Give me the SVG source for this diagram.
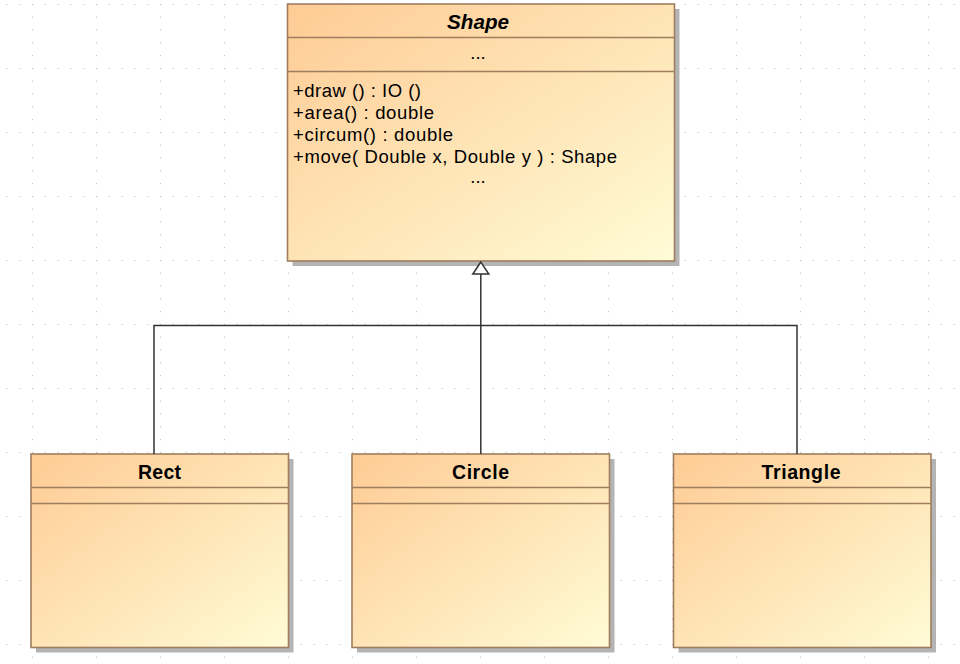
<svg xmlns="http://www.w3.org/2000/svg" width="960" height="664" viewBox="0 0 960 664">
  <defs>
    <linearGradient id="fill" x1="0" y1="0" x2="1" y2="1">
      <stop offset="0" stop-color="#FECB94"/>
      <stop offset="1" stop-color="#FFFCD6"/>
    </linearGradient>
    <pattern id="grid" patternUnits="userSpaceOnUse" x="32" y="4" width="64" height="64">
      <g fill="#b8b8b8">
        <rect x="0" y="0" width="1" height="1"/>
        <rect x="12.8" y="0" width="1" height="1"/>
        <rect x="25.6" y="0" width="1" height="1"/>
        <rect x="38.4" y="0" width="1" height="1"/>
        <rect x="51.2" y="0" width="1" height="1"/>
        <rect x="0" y="12.8" width="1" height="1"/>
        <rect x="0" y="25.6" width="1" height="1"/>
        <rect x="0" y="38.4" width="1" height="1"/>
        <rect x="0" y="51.2" width="1" height="1"/>
      </g>
    </pattern>
  </defs>
  <style>
    .box { fill: url(#fill); stroke: #9E7E5E; stroke-width: 1.6; }
    .shadow { fill: #b4b4b4; }
    .div { stroke: #9E7E5E; stroke-width: 1.6; fill: none; }
    .title { font-family: "Liberation Sans", Arial, sans-serif; font-weight: bold; font-size: 19.5px; fill: #000; text-anchor: middle; }
    .ital { font-style: italic; }
    .txt { font-family: "Liberation Sans", Arial, sans-serif; font-size: 18.5px; fill: #000; }
    .mid { text-anchor: middle; }
    .conn { stroke: #333; stroke-width: 1.5; fill: none; }
  </style>
  <rect width="960" height="664" fill="#fff"/>
  <rect width="960" height="664" fill="url(#grid)"/>

  <g id="Shape">
    <rect class="shadow" x="292.5" y="9" width="387" height="257"/>
    <rect class="box" x="287.5" y="4" width="387" height="257"/>
    <line class="div" x1="287.5" y1="37.5" x2="674.5" y2="37.5"/>
    <line class="div" x1="287.5" y1="71.5" x2="674.5" y2="71.5"/>
    <text class="title ital" x="478" y="29" textLength="62" lengthAdjust="spacingAndGlyphs">Shape</text>
    <text class="txt mid" x="478" y="59">...</text>
    <text class="txt" x="293" y="97" textLength="128" lengthAdjust="spacing">+draw () : IO ()</text>
    <text class="txt" x="293" y="119" textLength="141" lengthAdjust="spacing">+area() : double</text>
    <text class="txt" x="293" y="141" textLength="160" lengthAdjust="spacing">+circum() : double</text>
    <text class="txt" x="293" y="163" textLength="324" lengthAdjust="spacing">+move( Double x, Double y ) : Shape</text>
    <text class="txt mid" x="478" y="183">...</text>
  </g>

  <g id="Rect">
    <rect class="shadow" x="36" y="459" width="257.5" height="193.5"/>
    <rect class="box" x="31" y="454" width="257.5" height="193.5"/>
    <line class="div" x1="31" y1="487.5" x2="288.5" y2="487.5"/>
    <line class="div" x1="31" y1="503.5" x2="288.5" y2="503.5"/>
    <text class="title" x="159.5" y="479" textLength="43" lengthAdjust="spacing">Rect</text>
  </g>

  <g id="Circle">
    <rect class="shadow" x="357" y="459" width="257.5" height="193.5"/>
    <rect class="box" x="352" y="454" width="257.5" height="193.5"/>
    <line class="div" x1="352" y1="487.5" x2="609.5" y2="487.5"/>
    <line class="div" x1="352" y1="503.5" x2="609.5" y2="503.5"/>
    <text class="title" x="480.5" y="479" textLength="57" lengthAdjust="spacing">Circle</text>
  </g>

  <g id="Triangle">
    <rect class="shadow" x="678.5" y="459" width="257.5" height="193.5"/>
    <rect class="box" x="673.5" y="454" width="257.5" height="193.5"/>
    <line class="div" x1="673.5" y1="487.5" x2="931" y2="487.5"/>
    <line class="div" x1="673.5" y1="503.5" x2="931" y2="503.5"/>
    <text class="title" x="801" y="479" textLength="79" lengthAdjust="spacing">Triangle</text>
  </g>

  <g id="connectors">
    <polyline class="conn" points="154,454 154,325.5 797,325.5 797,454"/>
    <line class="conn" x1="480.8" y1="454" x2="480.8" y2="274"/>
    <polygon points="480.8,262 472.8,274 488.8,274" fill="#fff" stroke="#333" stroke-width="1.5" stroke-linejoin="miter"/>
  </g>
</svg>
